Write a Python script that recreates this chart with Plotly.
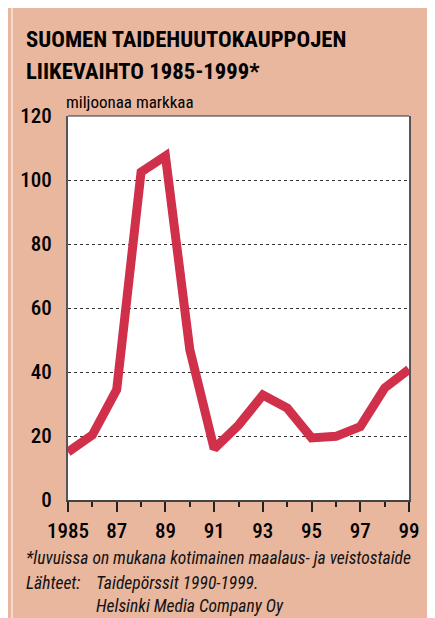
import plotly.graph_objects as go

# data (milj. mk)
years = list(range(1985, 2000))
values = [15, 20.3, 34.5, 102.5, 107.5, 47, 16, 23.4, 32.8, 28.7, 19.4, 19.9, 22.9, 35, 40.8]
tick_years = [1985, 1987, 1989, 1991, 1993, 1995, 1997, 1999]
tick_text = ['1985', '87', '89', '91', '93', '95', '97', '99']

# page puts the figure 8px in from the top-left corner
W, H = 427, 610
L, R, T, B = 57, 401, 108, 492   # plot area in figure pixels

def px(x):
    return (x - L) / (R - L)

def py(y):
    return (B - y) / (B - T)

salmon = '#E9B69E'
red = '#D1304B'
cond = 'Roboto Condensed, DejaVu Sans Condensed, sans-serif'

fig = go.Figure()
fig.add_trace(go.Scatter(
    x=years, y=values, mode='lines',
    line=dict(color=red, width=9),
    hoverinfo='x+y'
))

shapes = [
    # thin white strip at the left of the salmon panel
    dict(type='rect', xref='paper', yref='paper', x0=px(0), x1=px(1), y0=py(0), y1=py(H),
         fillcolor='white', line=dict(width=0), layer='below'),
    # top border of the plot
    dict(type='line', xref='paper', yref='paper', x0=0, x1=1, y0=1, y1=1,
         line=dict(color='#333333', width=1)),
]

annotations = [
    dict(text='<b>SUOMEN TAIDEHUUTOKAUPPOJEN</b>', x=px(13), y=py(32), xanchor='left', yanchor='middle',
         font=dict(family=cond, size=22.7, color='black')),
    dict(text='<b>LIIKEVAIHTO 1985-1999*</b>', x=px(13), y=py(63), xanchor='left', yanchor='middle',
         font=dict(family=cond, size=22.7, color='black')),
    dict(text='miljoonaa markkaa', x=px(53), y=py(94), xanchor='left', yanchor='middle',
         font=dict(family=cond, size=17, color='black')),
    dict(text='<i>*luvuissa on mukana kotimainen maalaus- ja veistostaide</i>', x=px(13), y=py(550),
         xanchor='left', yanchor='middle', font=dict(family=cond, size=17.5, color='#111111')),
    dict(text='<i>Lähteet:</i>', x=px(13), y=py(575),
         xanchor='left', yanchor='middle', font=dict(family=cond, size=17.5, color='#111111')),
    dict(text='<i>Taidepörssit 1990-1999.</i>', x=px(83), y=py(575),
         xanchor='left', yanchor='middle', font=dict(family=cond, size=17.5, color='#111111')),
    dict(text='<i>Helsinki Media Company Oy</i>', x=px(83), y=py(598),
         xanchor='left', yanchor='middle', font=dict(family=cond, size=17.5, color='#111111')),
]
for a in annotations:
    a.update(xref='paper', yref='paper', showarrow=False)

fig.update_layout(
    width=W, height=H,
    margin=dict(l=L, r=W - R, t=T, b=H - B, pad=0),
    paper_bgcolor=salmon,
    plot_bgcolor='white',
    showlegend=False,
    shapes=shapes,
    annotations=annotations,
    xaxis=dict(
        range=[1985, 1999], tickvals=tick_years, ticktext=tick_text,
        ticks='outside', ticklen=10, tickwidth=1.5, tickcolor='#222222',
        minor=dict(dtick=1, tick0=1985, ticks='outside', ticklen=5, tickwidth=1.5, tickcolor='#222222', showgrid=False),
        showgrid=False, zeroline=False,
        showline=True, linecolor='#444444', linewidth=2,
        tickfont=dict(family=cond, size=21, color='black', weight=500),
        ticklabelstandoff=1,
    ),
    yaxis=dict(
        range=[0, 120], tickvals=[0, 20, 40, 60, 80, 100, 120],
        ticks='', showgrid=True, gridcolor='#333333', griddash='dot', gridwidth=1,
        zeroline=False, showline=True, mirror=True, linecolor='#555555', linewidth=2,
        tickfont=dict(family=cond, size=21, color='black', weight=500),
        ticklabelstandoff=10,
    ),
)

fig.write_html("out.html")
